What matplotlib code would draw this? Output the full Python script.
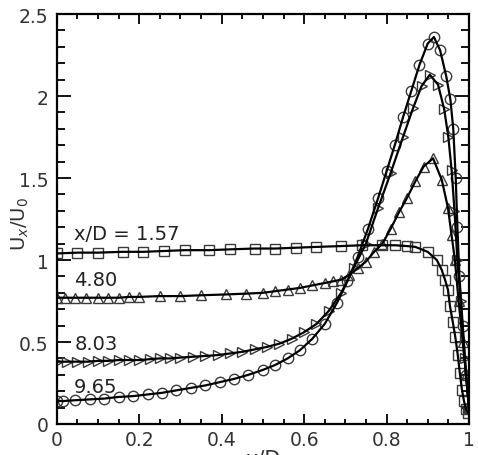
import numpy as np
import matplotlib
matplotlib.use("Agg")
import matplotlib.pyplot as plt
from matplotlib.ticker import MultipleLocator

# x/D = 1.57 (squares)
x_157 = [0, 0.05, 0.1, 0.16, 0.21, 0.26, 0.31, 0.37, 0.42, 0.48, 0.53, 0.58, 0.63, 0.69,
         0.74, 0.79, 0.82, 0.85, 0.87, 0.9, 0.922, 0.934, 0.942, 0.949, 0.954, 0.961,
         0.967, 0.973, 0.978, 0.983, 0.988, 0.993, 0.998]
y_157 = [1.04, 1.045, 1.045, 1.05, 1.05, 1.055, 1.06, 1.06, 1.065, 1.07, 1.07, 1.075, 1.08, 1.085,
         1.09, 1.09, 1.09, 1.085, 1.08, 1.05, 1.0, 0.94, 0.88, 0.82, 0.72, 0.62,
         0.53, 0.42, 0.31, 0.21, 0.14, 0.09, 0.07]

# x/D = 4.80 (up triangles)
x_480 = [0, 0.02, 0.045, 0.07, 0.1, 0.125, 0.15, 0.175, 0.2, 0.25, 0.3, 0.35, 0.41, 0.46,
         0.5, 0.53, 0.56, 0.59, 0.62, 0.65, 0.67, 0.69, 0.71, 0.73, 0.75, 0.77, 0.79,
         0.81, 0.83, 0.85, 0.87, 0.89, 0.913, 0.934, 0.949, 0.958, 0.966, 0.975, 0.985,
         0.993, 1.0]
y_480 = [0.77, 0.77, 0.77, 0.77, 0.77, 0.77, 0.77, 0.775, 0.775, 0.78, 0.78, 0.785, 0.79, 0.795,
         0.80, 0.81, 0.82, 0.83, 0.845, 0.86, 0.87, 0.88, 0.91, 0.95, 0.99, 1.05, 1.10,
         1.19, 1.29, 1.38, 1.48, 1.57, 1.62, 1.49, 1.32, 1.15, 1.0, 0.75, 0.5,
         0.3, 0.1]

# x/D = 8.03 (right triangles)
x_803 = [0, 0.025, 0.05, 0.075, 0.1, 0.125, 0.15, 0.175, 0.2, 0.225, 0.25, 0.275, 0.3, 0.33,
         0.36, 0.39, 0.42, 0.45, 0.48, 0.51, 0.54, 0.57, 0.6, 0.63, 0.66, 0.69, 0.72, 0.75,
         0.78, 0.81, 0.84, 0.865, 0.885, 0.905, 0.925, 0.94, 0.95, 0.958, 0.965, 0.972,
         0.98, 0.99, 1.0]
y_803 = [0.38, 0.38, 0.38, 0.38, 0.385, 0.385, 0.39, 0.39, 0.39, 0.395, 0.40, 0.40, 0.405, 0.41,
         0.415, 0.42, 0.43, 0.44, 0.455, 0.47, 0.49, 0.52, 0.56, 0.61, 0.69, 0.80, 0.95, 1.10,
         1.32, 1.53, 1.75, 1.93, 2.06, 2.13, 2.07, 1.92, 1.75, 1.55, 1.3, 1.0,
         0.75, 0.4, 0.1]

# x/D = 9.65 (circles)
x_965 = [0, 0.015, 0.045, 0.08, 0.115, 0.15, 0.185, 0.22, 0.255, 0.29, 0.325, 0.36, 0.395,
         0.43, 0.465, 0.5, 0.53, 0.56, 0.59, 0.62, 0.65, 0.68, 0.705, 0.73, 0.755, 0.78,
         0.8, 0.82, 0.84, 0.86, 0.88, 0.9, 0.915, 0.93, 0.945, 0.955, 0.962, 0.968, 0.972,
         0.977, 0.985, 0.993, 1.0]
y_965 = [0.14, 0.14, 0.145, 0.15, 0.155, 0.165, 0.17, 0.18, 0.19, 0.205, 0.22, 0.235, 0.255,
         0.275, 0.30, 0.33, 0.36, 0.40, 0.45, 0.52, 0.61, 0.74, 0.87, 1.02, 1.19, 1.38,
         1.54, 1.70, 1.87, 2.03, 2.19, 2.32, 2.36, 2.28, 2.12, 1.98, 1.8, 1.5, 1.2,
         0.9, 0.6, 0.3, 0.1]

series = [(x_157, y_157, "s"), (x_480, y_480, "^"), (x_803, y_803, ">"), (x_965, y_965, "o")]
labels = ["x/D = 1.57", "4.80", "8.03", "9.65"]
label_pos = [(0.042, 1.16), (0.042, 0.88), (0.042, 0.49), (0.042, 0.23)]

fig = plt.figure(figsize=(4.78, 4.56), dpi=100)
ax = fig.add_axes([0.119, 0.068, 0.862, 0.899])

for xs, ys, m in series:
    ax.plot(xs, ys, color="black", lw=1.6, zorder=3)
    ax.plot(xs, ys, ls="none", marker=m, ms=7.5, mfc="none", mec="#3a3a3a", mew=1.0, zorder=2)

for t, (tx, ty) in zip(labels, label_pos):
    ax.text(tx, ty, t, fontsize=14, ha="left", va="center", color="#222222")

ax.set_xlim(0, 1)
ax.set_ylim(0, 2.5)
ax.xaxis.set_major_locator(MultipleLocator(0.2))
ax.xaxis.set_minor_locator(MultipleLocator(0.05))
ax.yaxis.set_major_locator(MultipleLocator(0.5))
ax.yaxis.set_minor_locator(MultipleLocator(0.1))
ax.set_xticks([0, 0.2, 0.4, 0.6, 0.8, 1.0], ["0", "0.2", "0.4", "0.6", "0.8", "1"])
ax.set_yticks([0, 0.5, 1.0, 1.5, 2.0, 2.5], ["0", "0.5", "1", "1.5", "2", "2.5"])

ax.tick_params(which="both", direction="in", top=True, right=True, width=1.3, labelsize=13.5,
               colors="black", labelcolor="#333333")
ax.tick_params(axis="x", which="major", length=7, pad=4)
ax.tick_params(axis="x", which="minor", length=3.6)
ax.tick_params(axis="y", which="major", length=10, pad=6)
ax.tick_params(axis="y", which="minor", length=5.8)
for s in ax.spines.values():
    s.set_linewidth(1.6)

ax.set_xlabel("x/D", fontsize=15, labelpad=0, color="#333333")
ax.set_ylabel(r"U$_x$/U$_0$", fontsize=14, color="#333333")
ax.yaxis.set_label_coords(-0.064, 0.49)

fig.savefig("out.png", dpi=100)
